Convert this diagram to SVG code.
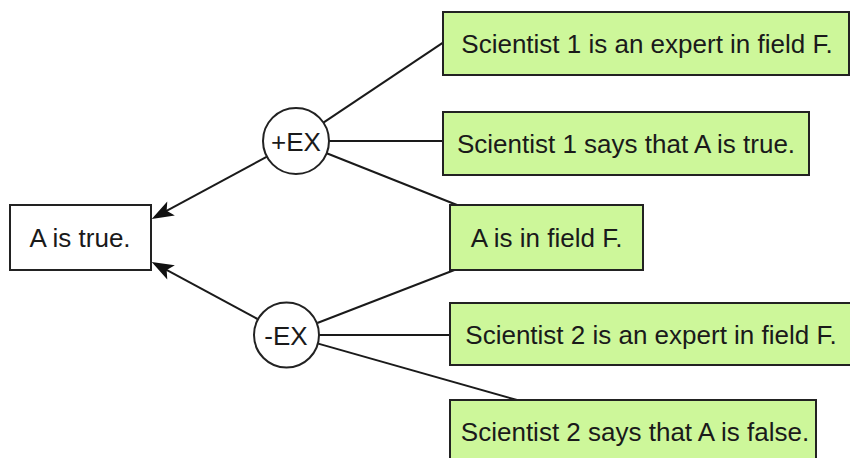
<svg xmlns="http://www.w3.org/2000/svg" width="850" height="458" viewBox="0 0 850 458">
  <style>
    .box { stroke: #222; stroke-width: 2; }
    .claim { fill: #ffffff; }
    .premise { fill: #cdf79a; }
    .scheme { fill: #ffffff; stroke: #222; stroke-width: 2; }
    .label { font-family: "Liberation Sans", Arial, sans-serif; font-size: 26px; fill: #1a1a1a; text-anchor: middle; }
    .edge { fill: none; stroke: #1a1a1a; stroke-width: 2; }
  </style>
  <defs>
    <marker id="arrow" markerUnits="userSpaceOnUse" markerWidth="24" markerHeight="18" refX="12" refY="8" orient="auto" overflow="visible">
      <path d="M0,0 L22,8 L0,16 L5,8 z" fill="#111"/>
    </marker>
  </defs>

  <!-- connectors -->
  <g id="connectors">
    <line class="edge" x1="267" y1="156.7" x2="160.5" y2="214.2" marker-end="url(#arrow)"/>
    <line class="edge" x1="257.5" y1="319" x2="160.5" y2="266.7" marker-end="url(#arrow)"/>
    <line class="edge" x1="323.4" y1="122.7" x2="443" y2="42.7"/>
    <line class="edge" x1="329" y1="141" x2="443" y2="141"/>
    <line class="edge" x1="326.7" y1="153.2" x2="457" y2="205"/>
    <line class="edge" x1="317.3" y1="323" x2="457" y2="269"/>
    <line class="edge" x1="319" y1="335" x2="450" y2="335"/>
    <line class="edge" x1="318.2" y1="343.6" x2="517" y2="400"/>
  </g>

  <!-- conclusion -->
  <g id="claim-a-true">
    <rect class="box claim" x="10" y="205" width="141" height="65"/>
    <text class="label" x="80" y="247">A is true.</text>
  </g>

  <!-- argument schemes -->
  <g id="scheme-pro">
    <circle class="scheme" cx="296" cy="141" r="33"/>
    <text class="label" x="296" y="150.5">+EX</text>
  </g>
  <g id="scheme-con">
    <circle class="scheme" cx="286.5" cy="335" r="32.5"/>
    <text class="label" x="286" y="344.5">-EX</text>
  </g>

  <!-- premises -->
  <g id="premise-s1-expert">
    <rect class="box premise" x="443" y="12" width="406" height="63"/>
    <text class="label" x="647" y="53">Scientist 1 is an expert in field F.</text>
  </g>
  <g id="premise-s1-says">
    <rect class="box premise" x="443" y="112" width="366" height="63"/>
    <text class="label" x="626" y="153">Scientist 1 says that A is true.</text>
  </g>
  <g id="premise-a-in-f">
    <rect class="box premise" x="450" y="205" width="193" height="65"/>
    <text class="label" x="546.5" y="247">A is in field F.</text>
  </g>
  <g id="premise-s2-expert">
    <rect class="box premise" x="450" y="303" width="401" height="62"/>
    <text class="label" x="651" y="344">Scientist 2 is an expert in field F.</text>
  </g>
  <g id="premise-s2-says">
    <rect class="box premise" x="450" y="400" width="366" height="64"/>
    <text class="label" x="635" y="441">Scientist 2 says that A is false.</text>
  </g>
</svg>
